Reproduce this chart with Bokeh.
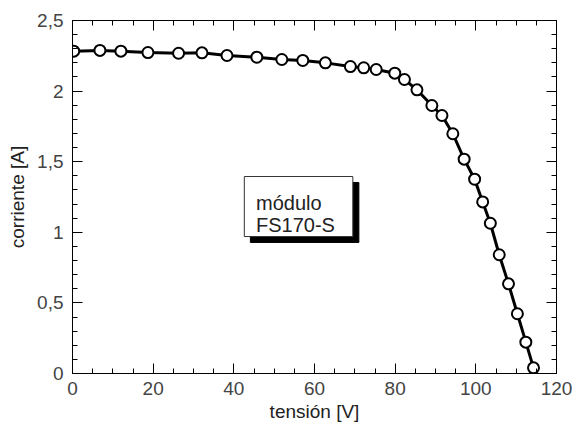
from bokeh.plotting import figure
from bokeh.models import (LinearAxis, Range1d, CustomJSTickFormatter, FixedTicker,
                          BoxAnnotation, ColumnDataSource, Label)
from bokeh.embed import file_html
from bokeh.resources import INLINE

# data
tension = [0.3, 6.8, 12.0, 18.7, 26.3, 32.1, 38.3, 45.7, 51.9, 57.1, 62.7, 68.9,
           72.2, 75.3, 79.9, 82.3, 85.4, 89.1, 91.6, 94.3, 97.1, 99.7, 101.7,
           103.6, 105.8, 108.1, 110.3, 112.4, 114.3]
corriente = [2.283, 2.288, 2.283, 2.273, 2.268, 2.271, 2.252, 2.240, 2.224, 2.217,
             2.200, 2.174, 2.165, 2.153, 2.127, 2.082, 2.009, 1.898, 1.827, 1.698,
             1.518, 1.376, 1.215, 1.064, 0.841, 0.635, 0.423, 0.222, 0.040]
x_ticks = [0, 20, 40, 60, 80, 100, 120]
y_ticks = [0, 0.5, 1, 1.5, 2, 2.5]
x_title = "tensión [V]"
y_title = "corriente [A]"
box_lines = ["módulo", "FS170-S"]

FONT = "Liberation Sans"
LABEL_COLOR = "#444444"

p = figure(frame_width=484, frame_height=353, output_backend="svg", toolbar_location=None,
           x_range=Range1d(0, 120), y_range=Range1d(0, 2.5),
           x_axis_location=None, y_axis_location=None,
           min_border_left=72, min_border_right=18, min_border_top=20,
           min_border_bottom=55)
p.xgrid.visible = False
p.ygrid.visible = False
p.outline_line_color = "black"
p.outline_line_width = 1
p.background_fill_color = "white"
p.border_fill_color = "white"

fmt = CustomJSTickFormatter(code="return tick.toString().replace('.', ',');")
blank = CustomJSTickFormatter(code="return '';")

def style(ax):
    ax.axis_line_color = "black"
    ax.major_tick_line_color = "black"
    ax.minor_tick_line_color = "black"
    ax.major_tick_in = 10
    ax.major_tick_out = 0
    ax.minor_tick_in = 5
    ax.minor_tick_out = 0
    ax.major_label_text_font = FONT
    ax.major_label_text_font_size = "19px"
    ax.major_label_text_color = LABEL_COLOR
    ax.axis_label_text_font = FONT
    ax.axis_label_text_font_size = "19px"
    ax.axis_label_text_font_style = "normal"
    ax.axis_label_text_color = "#222222"

x_minor = list(range(0, 121, 5))
y_minor = [i / 10 for i in range(26)]

xb = LinearAxis(ticker=FixedTicker(ticks=x_ticks, minor_ticks=x_minor), formatter=fmt,
                axis_label=x_title)
style(xb)
xb.major_label_standoff = 8
xb.axis_label_standoff = 3
p.add_layout(xb, "below")

yl = LinearAxis(ticker=FixedTicker(ticks=y_ticks, minor_ticks=y_minor),
                formatter=fmt, axis_label=y_title)
style(yl)
yl.major_label_standoff = 9
yl.axis_label_standoff = 6
p.add_layout(yl, "left")

xt = LinearAxis(ticker=FixedTicker(ticks=x_ticks, minor_ticks=x_minor), formatter=blank)
style(xt)
xt.major_label_text_font_size = "0px"
xt.major_label_standoff = 0
p.add_layout(xt, "above")

yr = LinearAxis(ticker=FixedTicker(ticks=y_ticks, minor_ticks=y_minor), formatter=blank)
style(yr)
yr.major_label_text_font_size = "0px"
yr.major_label_standoff = 0
p.add_layout(yr, "right")

src = ColumnDataSource(data=dict(x=tension, y=corriente))
p.line("x", "y", source=src, line_color="black", line_width=3)
p.scatter("x", "y", source=src, size=11, marker="circle", fill_color="white",
          line_color="black", line_width=2)

# label box with shadow
p.add_layout(BoxAnnotation(left=44.1, right=71.0, bottom=0.928, top=1.353,
                           fill_color="black", fill_alpha=1, line_color="black",
                           line_alpha=1))
p.add_layout(BoxAnnotation(left=42.6, right=69.5, bottom=0.970, top=1.395,
                           fill_color="white", fill_alpha=1, line_color="#333333",
                           line_width=1, line_alpha=1))
for txt, yy in zip(box_lines, [1.211, 1.055]):
    p.add_layout(Label(x=45.5, y=yy, text=txt, text_font=FONT, text_font_size="20px",
                       text_color="#222222", text_baseline="alphabetic",
                       text_align="left"))

open("out.html", "w").write(file_html(p, INLINE))
